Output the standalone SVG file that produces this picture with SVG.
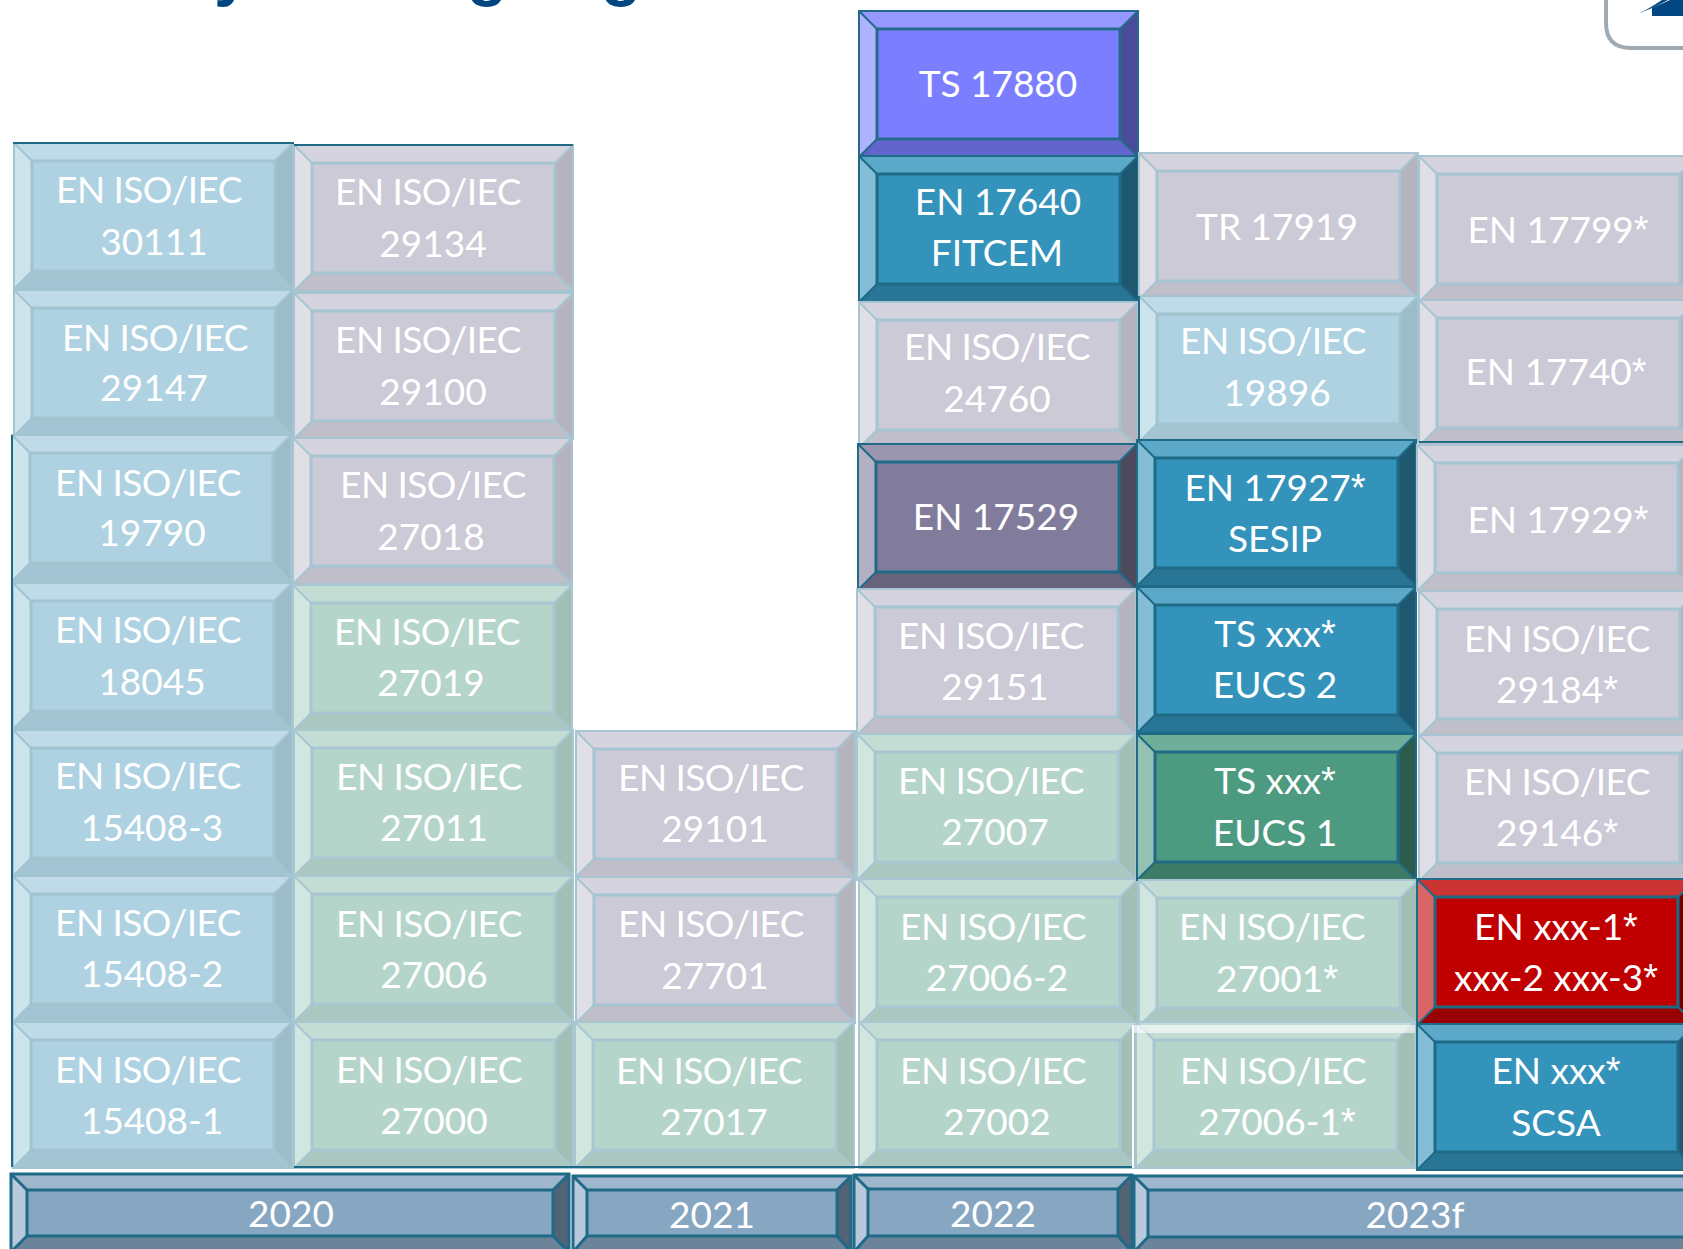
<svg xmlns="http://www.w3.org/2000/svg" width="1683" height="1249" viewBox="0 0 1683 1249">
<style>
text{font-family:Lato,"Liberation Sans",sans-serif;font-size:37px;fill:#fff;stroke:none;text-anchor:middle}
text.i{letter-spacing:-.55px}
text .a{font-family:"Liberation Sans",sans-serif;font-size:38px}
.title{font-family:"Liberation Sans",sans-serif;font-weight:700;font-size:66px;fill:#004680;text-anchor:start}
.hi{fill:#fff;fill-opacity:.2;stroke:none}.hl{fill:#fff;fill-opacity:.4;stroke:none}.lo{fill:#000;fill-opacity:var(--lo);stroke:none}.bt{fill:#000;fill-opacity:var(--bt);stroke:none}
.blue{fill:#aed2e1;stroke:#a2c3d0;--lo:.1;--bt:.06}.grey{fill:#cbcad6;stroke:#a6c4d1;--lo:.11;--bt:.06}.green{fill:#b5d5cb;stroke:#a9c6d3;--lo:.1;--bt:.06}
.teal{fill:#3393bb;stroke:#1f6a87;--lo:.4;--bt:.2}.slate{fill:#827c9c;stroke:#1f6a87;--lo:.4;--bt:.2}.purple{fill:#7b7fff;stroke:#246a8a;--lo:.4;--bt:.2}.dgreen{fill:#4c9a80;stroke:#1f6a87;--lo:.4;--bt:.2}.red{fill:#c00000;stroke:#1f6a87;--lo:.4;--bt:.2}.bar{fill:#87a6c1;stroke:#1f6a87;--lo:.4;--bt:.2}
.edge{fill:none;stroke:#1f6a87;stroke-width:2}
.d{fill:none;stroke-width:3}
</style>
<defs>
<g id="bv"><rect x="0" y="0" width="279" height="146" stroke="none"/><polygon class="hi" points="0,0 279,0 261,18 18,18"/><polygon class="hl" points="0,0 18,18 18,128 0,146"/><polygon class="lo" points="279,0 279,146 261,128 261,18"/><polygon class="bt" points="0,146 18,128 261,128 279,146"/><rect x="18" y="18" width="243" height="110" fill="none" stroke-width="3"/><path d="M0,0L18,18M279,0L261,18M0,146L18,128M279,146L261,128" fill="none" stroke-width="2"/><rect width="279" height="146" fill="none" stroke-width="2"/></g>
</defs>
<g id="title"><text class="title" x="214" y="-7">y</text><text class="title" x="467" y="-7">g</text><text class="title" x="601" y="-7">g</text></g>
<g id="logo"><path d="M1683,48H1631Q1606,48 1606,23V0" fill="none" stroke="#a0aab2" stroke-width="4"/><polygon points="1652,16 1683,16 1683,0 1670,0 1652,8" fill="#004680"/><path d="M1640,13Q1650,8 1662,0H1668Q1654,8 1640,13Z" fill="#004680"/></g>
<g id="n30111" class="blue"><use href="#bv" x="14" y="143"/><text class="i" x="149" y="203">EN ISO/IEC</text><text x="154" y="255">30111</text></g>
<g id="n29134" class="grey"><use href="#bv" x="294" y="145"/><text class="i" x="428" y="205">EN ISO/IEC</text><text x="433" y="257">29134</text></g>
<g id="n29147" class="blue"><use href="#bv" x="14" y="290"/><text class="i" x="155" y="351">EN ISO/IEC</text><text x="154" y="401">29147</text></g>
<g id="n29100" class="grey"><use href="#bv" x="294" y="293"/><text class="i" x="428" y="353">EN ISO/IEC</text><text x="433" y="405">29100</text></g>
<g id="n19790" class="blue"><use href="#bv" x="12" y="435"/><text class="i" x="148" y="496">EN ISO/IEC</text><text x="152" y="546">19790</text></g>
<g id="n27018" class="grey"><use href="#bv" x="293" y="438"/><text class="i" x="433" y="498">EN ISO/IEC</text><text x="431" y="550">27018</text></g>
<g id="n18045" class="blue"><use href="#bv" x="13" y="583"/><text class="i" x="148" y="643">EN ISO/IEC</text><text x="152" y="695">18045</text></g>
<g id="n27019" class="green"><use href="#bv" x="293" y="585"/><text class="i" x="427" y="645">EN ISO/IEC</text><text x="431" y="696">27019</text></g>
<g id="n15408-3" class="blue"><use href="#bv" x="13" y="730"/><text class="i" x="148" y="789">EN ISO/IEC</text><text x="152" y="841">15408-3</text></g>
<g id="n27011" class="green"><use href="#bv" x="294" y="730"/><text class="i" x="429" y="790">EN ISO/IEC</text><text x="434" y="841">27011</text></g>
<g id="n15408-2" class="blue"><use href="#bv" x="13" y="876"/><text class="i" x="148" y="936">EN ISO/IEC</text><text x="152" y="987">15408-2</text></g>
<g id="n27006" class="green"><use href="#bv" x="294" y="876"/><text class="i" x="429" y="937">EN ISO/IEC</text><text x="434" y="988">27006</text></g>
<g id="n15408-1" class="blue"><use href="#bv" x="13" y="1022"/><text class="i" x="148" y="1083">EN ISO/IEC</text><text x="152" y="1134">15408-1</text></g>
<g id="n27000" class="green"><use href="#bv" x="294" y="1022"/><text class="i" x="429" y="1083">EN ISO/IEC</text><text x="434" y="1134">27000</text></g>
<g id="n29101" class="grey"><use href="#bv" x="576" y="731"/><text class="i" x="711" y="791">EN ISO/IEC</text><text x="715" y="842">29101</text></g>
<g id="n27701" class="grey"><use href="#bv" x="576" y="877"/><text class="i" x="711" y="937">EN ISO/IEC</text><text x="715" y="989">27701</text></g>
<g id="n27017" class="green"><use href="#bv" x="575" y="1022"/><text class="i" x="709" y="1084">EN ISO/IEC</text><text x="714" y="1135">27017</text></g>
<g id="n17880" class="purple"><use href="#bv" x="859" y="11"/><text x="998" y="97">TS 17880</text></g>
<g id="n17640" class="teal"><use href="#bv" x="859" y="156"/><text x="998" y="215">EN 17640</text><text x="997" y="266">FITCEM</text></g>
<g id="n24760" class="grey"><use href="#bv" x="859" y="302"/><text class="i" x="997" y="360">EN ISO/IEC</text><text x="997" y="412">24760</text></g>
<g id="n17529" class="slate"><use href="#bv" x="858" y="444"/><text x="996" y="530">EN 17529</text></g>
<g id="n29151" class="grey"><use href="#bv" x="857" y="589"/><text class="i" x="991" y="649">EN ISO/IEC</text><text x="995" y="700">29151</text></g>
<g id="n27007" class="green"><use href="#bv" x="857" y="734"/><text class="i" x="991" y="794">EN ISO/IEC</text><text x="995" y="845">27007</text></g>
<g id="n27006-2" class="green"><use href="#bv" x="859" y="879"/><text class="i" x="993" y="940">EN ISO/IEC</text><text x="997" y="991">27006-2</text></g>
<g id="n27002" class="green"><use href="#bv" x="859" y="1022"/><text class="i" x="993" y="1084">EN ISO/IEC</text><text x="997" y="1135">27002</text></g>
<g id="n17919" class="grey"><use href="#bv" x="1139" y="153"/><text x="1277" y="240">TR 17919</text></g>
<g id="n19896" class="blue"><use href="#bv" x="1139" y="296"/><text class="i" x="1273" y="354">EN ISO/IEC</text><text x="1277" y="406">19896</text></g>
<g id="n17927" class="teal"><use href="#bv" x="1137" y="440"/><text x="1275" y="501">EN 17927<tspan class="a">*</tspan></text><text x="1275" y="552">SESIP</text></g>
<g id="n-eucs2" class="teal"><use href="#bv" x="1137" y="587"/><text x="1275" y="647">TS xxx<tspan class="a">*</tspan></text><text x="1275" y="698">EUCS 2</text></g>
<g id="n-eucs1" class="dgreen"><use href="#bv" x="1137" y="734"/><text x="1275" y="794">TS xxx<tspan class="a">*</tspan></text><text x="1275" y="846">EUCS 1</text></g>
<g id="n27001" class="green"><use href="#bv" x="1139" y="880"/><text class="i" x="1272" y="940">EN ISO/IEC</text><text x="1277" y="992">27001<tspan class="a">*</tspan></text></g>
<g id="n27006-1" class="green"><use href="#bv" x="1136" y="1022"/><rect x="1133" y="1025" width="282" height="8" fill="#fff" fill-opacity=".6" stroke="none"/><rect x="1132" y="1025" width="2" height="143" fill="#fff" stroke="none"/><text class="i" x="1273" y="1084">EN ISO/IEC</text><text x="1277" y="1135">27006-1<tspan class="a">*</tspan></text></g>
<g id="n17799" class="grey"><use href="#bv" x="1419" y="156"/><text x="1558" y="243">EN 17799<tspan class="a">*</tspan></text></g>
<g id="n17740" class="grey"><use href="#bv" x="1419" y="300"/><text x="1556" y="385">EN 17740<tspan class="a">*</tspan></text></g>
<g id="n17929" class="grey"><use href="#bv" x="1417" y="445"/><text x="1558" y="533">EN 17929<tspan class="a">*</tspan></text></g>
<g id="n29184" class="grey"><use href="#bv" x="1419" y="591"/><text class="i" x="1557" y="652">EN ISO/IEC</text><text x="1557" y="703">29184<tspan class="a">*</tspan></text></g>
<g id="n29146" class="grey"><use href="#bv" x="1419" y="735"/><text class="i" x="1557" y="795">EN ISO/IEC</text><text x="1557" y="846">29146<tspan class="a">*</tspan></text></g>
<g id="n-xxx" class="red"><use href="#bv" x="1417" y="879"/><text x="1556" y="940">EN xxx-1<tspan class="a">*</tspan></text><text x="1556" y="991">xxx-2 xxx-3<tspan class="a">*</tspan></text></g>
<g id="n-scsa" class="teal"><use href="#bv" x="1417" y="1024"/><text x="1556" y="1084">EN xxx<tspan class="a">*</tspan></text><text x="1556" y="1136">SCSA</text></g>
<g id="y2020" class="bar"><rect x="11" y="1174" width="558" height="80" stroke="none"/><polygon class="hi" points="11,1174 569,1174 553,1190 27,1190"/><polygon class="hl" points="11,1174 27,1190 27,1236 11,1252"/><polygon class="lo" points="569,1174 569,1252 553,1236 553,1190"/><polygon class="bt" points="11,1252 27,1236 553,1236 569,1252"/><rect x="27" y="1190" width="526" height="46" fill="none" stroke-width="3"/><rect x="11" y="1174" width="558" height="80" fill="none" stroke-width="3"/><path class="d" d="M11,1174L27,1190M569,1174L553,1190M11,1252L27,1236M569,1252L553,1236"/><text x="291" y="1227">2020</text></g>
<g id="y2021" class="bar"><rect x="573" y="1176" width="278" height="80" stroke="none"/><polygon class="hi" points="573,1176 851,1176 837,1190 587,1190"/><polygon class="hl" points="573,1176 587,1190 587,1236 573,1252"/><polygon class="lo" points="851,1176 851,1252 837,1236 837,1190"/><polygon class="bt" points="573,1252 587,1236 837,1236 851,1252"/><rect x="587" y="1190" width="250" height="46" fill="none" stroke-width="3"/><rect x="573" y="1176" width="278" height="80" fill="none" stroke-width="3"/><path class="d" d="M573,1176L587,1190M851,1176L837,1190M573,1252L587,1236M851,1252L837,1236"/><text x="712" y="1228">2021</text></g>
<g id="y2022" class="bar"><rect x="854" y="1175" width="278" height="80" stroke="none"/><polygon class="hi" points="854,1175 1132,1175 1118,1189 868,1189"/><polygon class="hl" points="854,1175 868,1189 868,1236 854,1252"/><polygon class="lo" points="1132,1175 1132,1252 1118,1236 1118,1189"/><polygon class="bt" points="854,1252 868,1236 1118,1236 1132,1252"/><rect x="868" y="1189" width="250" height="47" fill="none" stroke-width="3"/><rect x="854" y="1175" width="278" height="80" fill="none" stroke-width="3"/><path class="d" d="M854,1175L868,1189M1132,1175L1118,1189M854,1252L868,1236M1132,1252L1118,1236"/><text x="993" y="1227">2022</text></g>
<g id="y2023f" class="bar"><rect x="1134" y="1176" width="570" height="80" stroke="none"/><polygon class="hi" points="1134,1176 1704,1176 1690,1190 1148,1190"/><polygon class="hl" points="1134,1176 1148,1190 1148,1237 1134,1252"/><polygon class="bt" points="1134,1252 1148,1237 1690,1237 1704,1252"/><rect x="1148" y="1190" width="542" height="47" fill="none" stroke-width="3"/><rect x="1134" y="1176" width="570" height="80" fill="none" stroke-width="3"/><path class="d" d="M1134,1176L1148,1190M1134,1252L1148,1237"/><text x="1415" y="1228">2023f</text></g>
<g id="connectors"><path class="edge" d="M13,143H294M294,145H573M12,435V1167M294,1167H1132M1139,296V440M1419,442H1683"/></g>
</svg>
